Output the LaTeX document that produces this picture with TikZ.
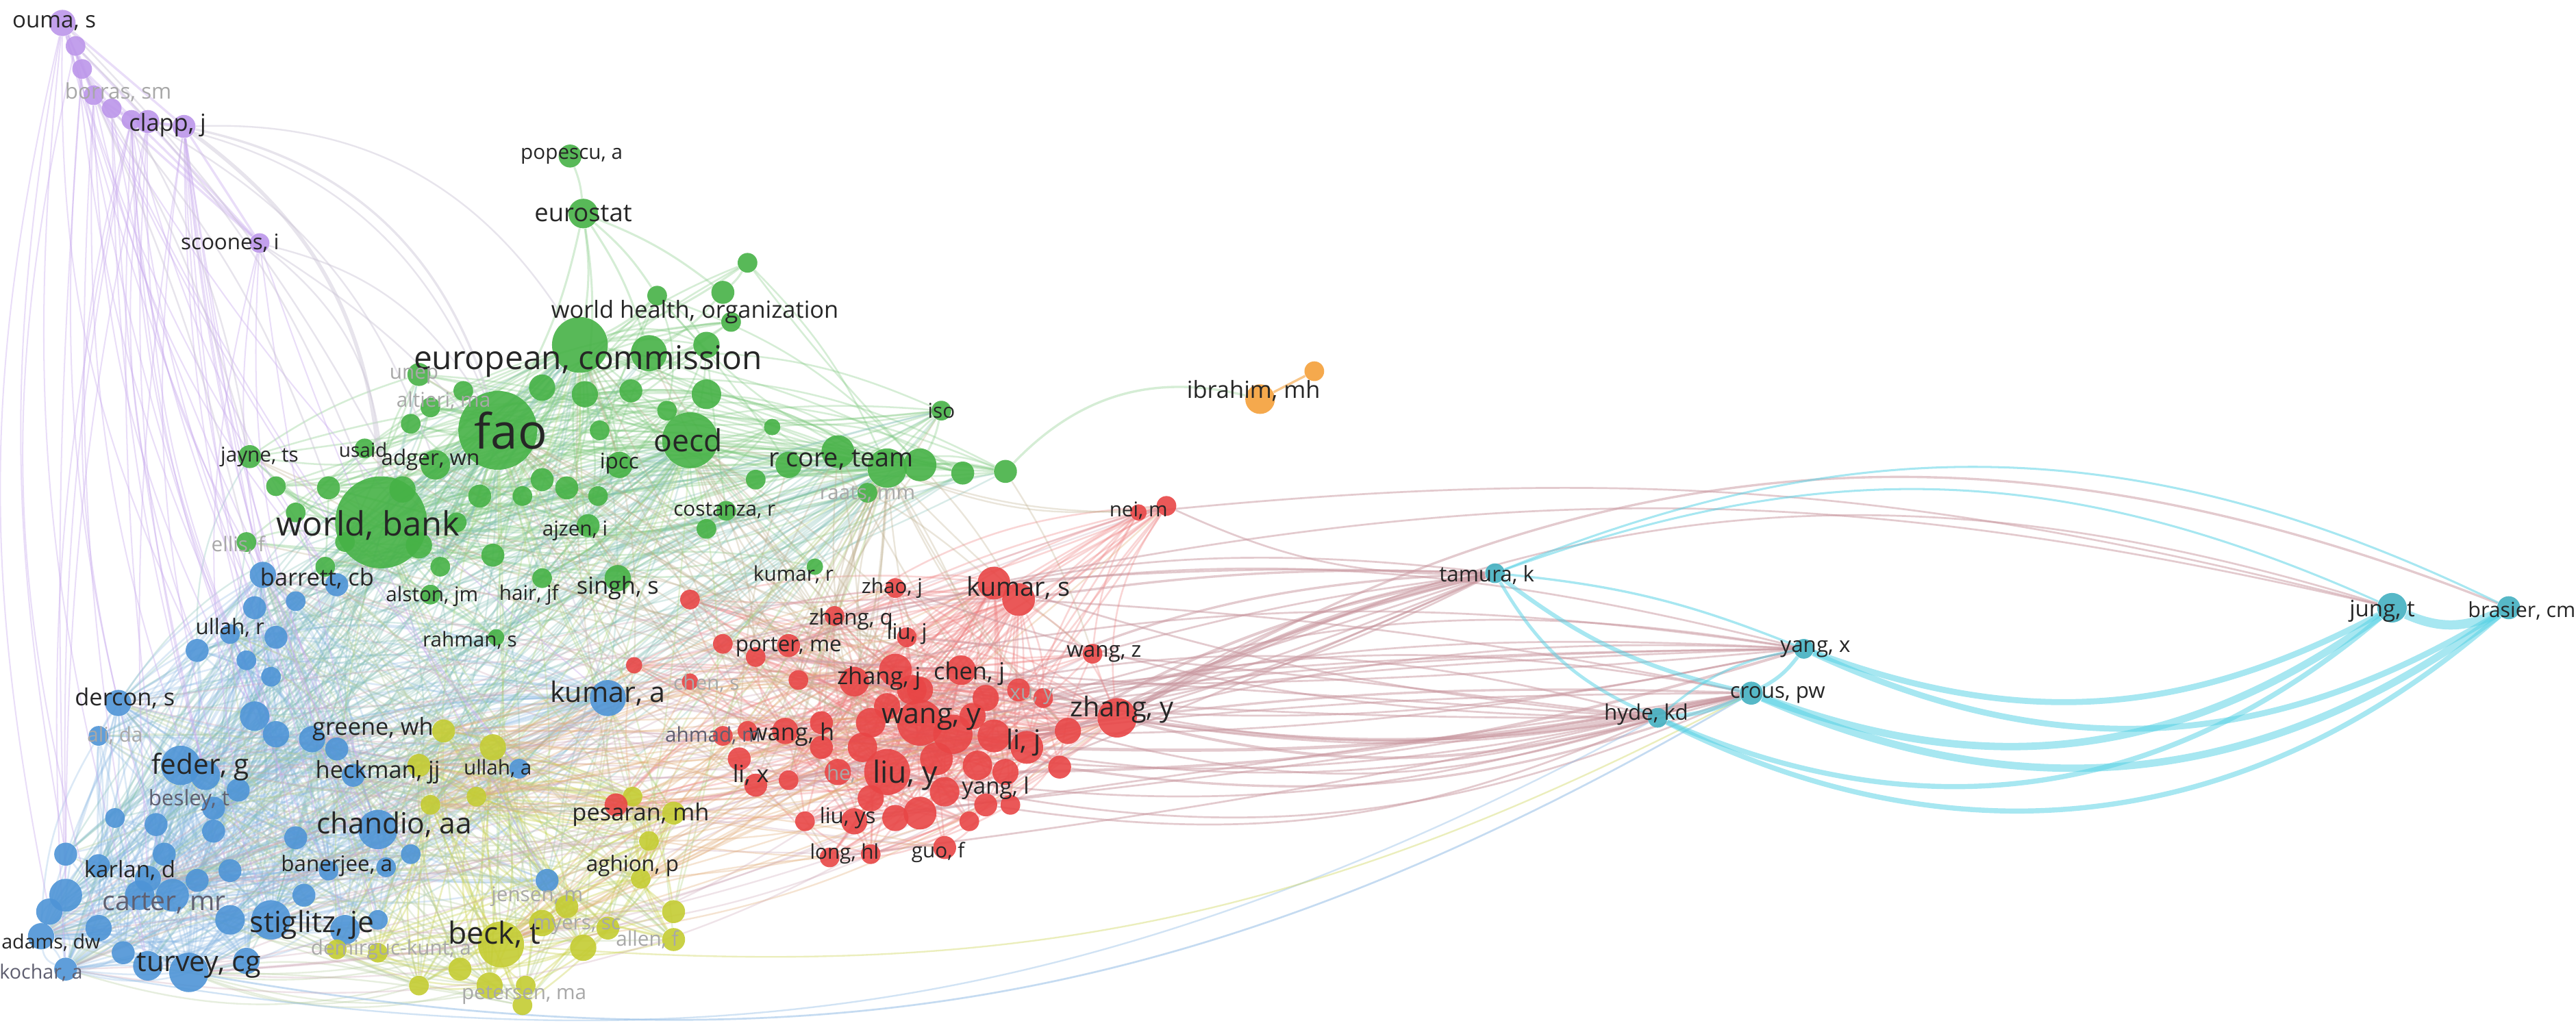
\documentclass[tikz,border=0pt]{standalone}
\usepackage{fontspec}
\setmainfont{Open Sans}
\pgfdeclarelayer{bg}
\pgfdeclarelayer{edges}
\pgfdeclarelayer{labels}
\pgfsetlayers{bg,edges,main,labels}
\definecolor{vgreen}{RGB}{70,178,70}
\definecolor{vblue}{RGB}{78,148,214}
\definecolor{vred}{RGB}{232,70,70}
\definecolor{vyellow}{RGB}{196,204,50}
\definecolor{vpurple}{RGB}{188,150,234}
\definecolor{vcyan}{RGB}{80,208,228}
\definecolor{vorange}{RGB}{245,160,58}
\definecolor{labc}{RGB}{38,38,38}
\definecolor{labm}{RGB}{95,95,112}
\definecolor{labf}{RGB}{168,168,168}
\definecolor{rcgray}{RGB}{200,150,158}
\tikzset{
  vnode/.style={circle, inner sep=0pt, fill=#1, fill opacity=0.9},
  vlab/.style={inner sep=0pt},
  ge/.style={draw=vgreen!70!white, draw opacity=0.32, line width=0.75pt},
  be/.style={draw=vblue!65!white, draw opacity=0.3, line width=0.75pt},
  re/.style={draw=vred!70!white, draw opacity=0.32, line width=0.75pt},
  ye/.style={draw=vyellow!85!white, draw opacity=0.38, line width=0.75pt},
  gbe/.style={draw=vgreen!45!vblue!70!white, draw opacity=0.3, line width=0.7pt},
  gre/.style={draw=vgreen!50!vred!65!white, draw opacity=0.3, line width=0.7pt},
  gye/.style={draw=vgreen!50!vyellow!70!white, draw opacity=0.3, line width=0.7pt},
  bye/.style={draw=vblue!40!vyellow!70!white, draw opacity=0.33, line width=0.7pt},
  bre/.style={draw=vblue!40!vred!60!white, draw opacity=0.3, line width=0.7pt},
  yre/.style={draw=vyellow!50!vred!70!white, draw opacity=0.33, line width=0.7pt},
  rce/.style={draw=rcgray, draw opacity=0.5, line width=0.8pt},
  pe/.style={draw=vpurple!80!white, draw opacity=0.4, line width=0.6pt},
  pge/.style={draw=vpurple!40!gray!50!white, draw opacity=0.45, line width=0.7pt},
  ce/.style={draw=vcyan, draw opacity=0.5},
}
% #1 prefix A, #2-#3 range A, #4 prefix B, #5-#6 range B, #7 count, #8 style, #9 max bend
\newcommand\vosedges[9]{%
  \foreach \k in {1,...,#7}{%
    \pgfmathrandominteger{\ea}{#2}{#3}%
    \pgfmathrandominteger{\eb}{#5}{#6}%
    \pgfmathrandominteger{\ebend}{-#9}{#9}%
    \edef\eA{#1\ea}\edef\eB{#4\eb}%
    \ifx\eA\eB\else\draw[#8] (#1\ea) to[bend left=\ebend] (#4\eb);\fi
  }%
}
\begin{document}
\begin{tikzpicture}[x=0.025cm,y=-0.025cm]
\useasboundingbox (0,0) rectangle (1568,628);
\begin{pgfonlayer}{bg}
\fill[white] (0,0) rectangle (1568,628);
\end{pgfonlayer}

% ---------------- nodes ----------------
% green
\foreach \i/\x/\y/\r in {1/303/262/24, 2/232/318/28, 3/353/210/17, 4/420/268/17, 5/540/285/12, 6/355/130/9, 7/347/95/7, 8/440/178/7, 9/377/283/8, 10/265/283/9, 11/222/273/6, 12/152/278/7, 13/573/250/6, 14/528/300/6, 15/442/311/6, 16/358/320/7, 17/330/352/6, 18/376/352/8, 19/262/362/6, 20/302/388/5, 21/496/345/5, 22/150/330/6, 23/255/228/7, 24/262/248/6, 25/480/283/8, 26/510/275/10, 27/560/283/10, 28/586/288/7, 29/612/287/7, 30/395/215/11, 31/430/210/8, 32/445/196/6, 33/455/160/6, 34/400/180/6, 35/330/236/8, 36/356/240/8, 37/384/238/7, 38/430/240/9, 39/282/238/6, 40/330/292/7, 41/292/302/7, 42/318/302/6, 43/345/297/7, 44/364/302/6, 45/245/298/8, 46/200/297/7, 47/180/312/6, 48/168/296/6, 49/255/332/8, 50/268/345/6, 51/300/338/7, 52/198/345/6, 53/460/292/6, 54/430/322/6, 55/365/262/6, 56/250/258/6, 57/210/330/6, 58/278/318/6, 59/470/260/5, 60/406/250/6}
  \node[vnode=vgreen, minimum size=\r*0.05cm] (g\i) at (\x,\y) {};
% blue
\foreach \i/\x/\y/\r in {1/230/505/12, 2/110/466/12, 3/370/425/11, 4/165/560/12, 5/115/592/12, 6/105/545/10, 7/160/350/8, 8/72/428/8, 9/190/450/8, 10/90/535/8, 11/25/570/8, 12/40/590/7, 13/316/468/6, 14/200/530/6, 15/140/386/6, 16/60/448/6, 17/130/492/7, 18/215/472/7, 19/40/520/7, 20/205/356/7, 21/155/370/7, 22/180/366/6, 23/168/388/7, 24/120/396/7, 25/150/402/6, 26/165/412/6, 27/155/436/9, 28/168/447/8, 29/205/456/7, 30/125/472/9, 31/145/481/7, 32/70/498/6, 33/95/502/7, 34/130/506/7, 35/60/527/7, 36/120/536/7, 37/235/528/6, 38/85/545/9, 39/40/545/10, 40/210/566/9, 41/90/588/9, 42/333/536/7, 43/140/560/9, 44/185/545/7, 45/60/565/8, 46/150/585/8, 47/230/560/6, 48/100/520/7, 49/75/580/7, 50/180/510/7, 51/250/520/6, 52/140/530/7, 53/30/555/8}
  \node[vnode=vblue, minimum size=\r*0.05cm] (b\i) at (\x,\y) {};
% yellow
\foreach \i/\x/\y/\r in {1/305/575/14, 2/410/495/7, 3/390/535/6, 4/300/455/8, 5/270/445/7, 6/255/466/7, 7/290/485/6, 8/262/490/6, 9/385/485/6, 10/395/512/6, 11/345/552/7, 12/330/562/8, 13/355/577/8, 14/410/555/7, 15/410/572/7, 16/320/600/6, 17/318/612/6, 18/230/580/6, 19/205/578/6, 20/280/590/7, 21/298/600/8, 22/370/565/7, 23/255/600/6}
  \node[vnode=vyellow, minimum size=\r*0.05cm] (y\i) at (\x,\y) {};
% red
\foreach \i/\x/\y/\r in {1/540/470/14, 2/560/440/14, 3/680/437/12, 4/625/455/10, 5/605/355/10, 6/520/415/9, 7/585/408/9, 8/478/445/8, 9/580/447/12, 10/605/448/10, 11/620/365/10, 12/545/408/10, 13/650/445/8, 14/693/312/5, 15/710/308/6, 16/545/358/6, 17/508/375/6, 18/552/388/6, 19/480/393/7, 20/420/365/6, 21/386/405/5, 22/440/392/6, 23/460/400/6, 24/486/414/6, 25/420/415/5, 26/665/398/6, 27/635/425/6, 28/440/448/6, 29/510/470/8, 30/450/462/7, 31/460/478/7, 32/480/475/6, 33/600/490/7, 34/615/490/6, 35/520/500/8, 36/505/522/6, 37/575/516/7, 38/645/467/7, 39/560/495/10, 40/545/498/8, 41/375/490/7, 42/500/440/7, 43/530/440/9, 44/600/425/8, 45/620/420/7, 46/560/420/8, 47/490/500/6, 48/590/500/6, 49/530/520/6, 50/455/445/6, 51/570/462/10, 52/595/466/9, 53/555/420/9, 54/525/455/9, 55/575/482/9, 56/530/486/8, 57/612/470/8, 58/500/455/7, 59/592/436/8, 60/540/430/8}
  \node[vnode=vred, minimum size=\r*0.05cm] (r\i) at (\x,\y) {};
% purple
\foreach \i/\x/\y/\r in {1/38/14/8, 2/46/28/6, 3/50/42/6, 4/57/58/6, 5/68/66/6, 6/80/73/6, 7/90/74/7, 8/112/77/7, 9/158/148/6}
  \node[vnode=vpurple, minimum size=\r*0.05cm] (p\i) at (\x,\y) {};
% orange
\node[vnode=vorange, minimum size=0.45cm] (o1) at (767,243) {};
\node[vnode=vorange, minimum size=0.3cm] (o2) at (800,226) {};
% cyan
\foreach \i/\x/\y/\r in {1/910/349/6, 2/1009/437/6, 3/1066/422/7, 4/1098/395/6, 5/1456/370/9, 6/1527/370/7}
  \node[vnode=vcyan!85!black, minimum size=\r*0.05cm] (c\i) at (\x,\y) {};

% ---------------- edges ----------------
\begin{pgfonlayer}{edges}
\pgfmathsetseed{7}
% green
\vosedges{g}{1}{5}{g}{1}{5}{10}{ge}{10}
\vosedges{g}{1}{5}{g}{9}{60}{170}{ge}{20}
\vosedges{g}{9}{60}{g}{9}{60}{90}{ge}{20}
% blue
\vosedges{b}{1}{12}{b}{1}{53}{260}{be}{30}
\vosedges{b}{1}{53}{b}{1}{53}{170}{be}{30}
% yellow
\vosedges{y}{1}{10}{y}{1}{23}{80}{ye}{20}
\vosedges{y}{1}{23}{y}{1}{23}{35}{ye}{20}
% red
\vosedges{r}{1}{13}{r}{1}{60}{240}{re}{20}
\vosedges{r}{1}{60}{r}{1}{60}{140}{re}{20}
% cross
\vosedges{g}{1}{5}{b}{1}{53}{100}{gbe}{20}
\vosedges{g}{9}{30}{b}{1}{53}{60}{gbe}{20}
\vosedges{g}{1}{5}{r}{1}{60}{50}{gre}{15}
\vosedges{g}{9}{30}{r}{1}{60}{30}{gre}{15}
\vosedges{g}{1}{5}{y}{1}{23}{30}{gye}{15}
\vosedges{b}{1}{20}{y}{1}{23}{120}{bye}{20}
\vosedges{b}{1}{12}{r}{1}{60}{55}{bre}{15}
\vosedges{y}{1}{10}{r}{1}{60}{60}{yre}{15}
\vosedges{r}{1}{60}{c}{1}{4}{35}{rce}{14}
% purple to blue
\foreach \k in {1,...,50}{%
  \pgfmathrandominteger{\ea}{1}{9}%
  \pgfmathrandominteger{\eb}{1}{53}%
  \pgfmathrandominteger{\ebend}{-14}{-3}%
  \draw[pe] (p\ea) to[bend left=\ebend] (b\eb);
}
% purple chain
\foreach \a/\b in {1/2,2/3,3/4,4/5,5/6,6/7,7/8,1/3,2/4,3/5,4/6,5/7,6/8,1/8,2/7,4/9,7/9,8/9,3/9}
  \draw[pe, line width=1pt] (p\a) -- (p\b);
% purple to green
\draw[pge, line width=1.6pt] (p8) to[bend left=25] (g2);
\draw[pge, line width=1pt] (p8) to[bend left=30] (g1);
\draw[pge] (p7) to[bend left=28] (g1);
\draw[pge] (p7) to[bend left=20] (g10);
\draw[pge] (p6) to[bend left=10] (g12);
\draw[pge] (p9) to[bend left=25] (g2);
\draw[pge] (p9) to[bend left=22] (g1);
\draw[pge] (p9) to[bend left=20] (b3);
\draw[pge] (p4) to[bend left=5] (g22);
\draw[pge] (p3) to[bend left=8] (g12);
\draw[pge] (p5) to[bend left=10] (g46);
\draw[pge] (p1) to[bend left=8] (g45);
\draw[pge] (p2) to[bend left=12] (g2);
\draw[pge] (p8) to[bend left=30] (g3);
% green specific
\foreach \a/\b in {7/6,6/3,6/30,6/8,6/1,33/3,33/8,8/30,34/3,13/5,13/26,13/27,25/27,26/28,27/29,5/29,6/36,6/34}
  \draw[ge, line width=0.9pt] (g\a) to[bend left=8] (g\b);
\draw[ge, line width=1pt] (g29) to[bend left=30] (o1);
\draw[draw=vorange, draw opacity=0.6, line width=1pt] (o1) -- (o2);
% red to nei
\draw[re] (r14) to[bend right=15] (r4);
\draw[re] (r15) to[bend right=20] (r3);
\draw[re] (r14) -- (r15);
\draw[re] (r15) to[bend right=10] (r11);
% red to cyan
\draw[rce, line width=1.8pt] (r3) to[bend left=8] (c1);
\draw[rce, line width=1.6pt] (r3) to[bend right=10] (c3);
\draw[rce, line width=1.2pt] (r3) to[bend right=14] (c2);
\draw[rce, line width=1.2pt] (r4) to[bend left=10] (c1);
\draw[rce, line width=1.4pt] (r4) to[bend right=6] (c3);
\draw[rce, line width=1pt] (r2) to[bend left=12] (c1);
\draw[rce] (r1) to[bend right=12] (c2);
\draw[rce, line width=1pt] (r10) to[bend left=5] (c3);
\draw[rce, line width=1pt] (r3) to[bend left=26] (c6);
\draw[rce] (r3) to[bend left=22] (c5);
\draw[rce] (r5) to[bend left=12] (c5);
\draw[rce, line width=1pt] (r11) to[bend left=5] (c1);
\draw[rce] (r9) to[bend right=6] (c4);
\draw[rce] (r13) to[bend right=16] (c2);
\draw[rce, line width=1pt] (r38) to[bend right=14] (c3);
\draw[rce] (r33) to[bend right=16] (c2);
\draw[rce] (r1) to[bend right=18] (c3);
\draw[rce, line width=1.2pt] (r13) to[bend left=6] (c1);
\draw[rce, line width=1.2pt] (r57) to[bend right=8] (c4);
\draw[rce] (r26) to[bend left=4] (c1);
\draw[rce] (r14) to[bend left=10] (c5);
% long arcs bottom
\draw[be, draw opacity=0.5, line width=0.8pt] (b5) to[bend right=20] (c3);
\draw[be, draw opacity=0.4, line width=0.7pt] (b12) to[bend right=19] (c2);
\draw[ye, line width=0.7pt] (y1) to[bend right=16] (c3);
\draw[bre] (b4) to[bend right=20] (r3);
\draw[yre] (y1) to[bend right=15] (r3);
\draw[bre] (b5) to[bend right=20] (r1);
\draw[bre] (b12) to[bend right=22] (r4);
% cyan cluster
\draw[ce, line width=3.2pt] (c3) to[bend right=28] (c5);
\draw[ce, line width=3.2pt] (c3) to[bend right=30] (c6);
\draw[ce, line width=2.6pt] (c4) to[bend right=24] (c5);
\draw[ce, line width=2.6pt] (c4) to[bend right=28] (c6);
\draw[ce, line width=2.2pt] (c2) to[bend right=32] (c5);
\draw[ce, line width=2.2pt] (c2) to[bend right=34] (c6);
\draw[ce, line width=4pt] (c5) to[bend right=25] (c6);
\draw[ce, line width=1.8pt] (c1) to[bend right=12] (c3);
\draw[ce, line width=1.4pt] (c1) to[bend right=18] (c2);
\draw[ce, line width=1pt] (c1) to[bend left=8] (c4);
\draw[ce, line width=1.8pt] (c2) to[bend right=10] (c3);
\draw[ce, line width=1.6pt] (c3) to[bend right=12] (c4);
\draw[ce, line width=1pt] (c2) to[bend left=15] (c4);
\draw[ce, line width=0.9pt] (c1) to[bend left=22] (c5);
\draw[ce, line width=0.9pt] (c1) to[bend left=24] (c6);
\end{pgfonlayer}

% ---------------- labels ----------------
\begin{pgfonlayer}{labels}
\foreach \i/\lx/\ly/\txt/\fs/\lc in {1/311/262/fao/21/labc, 2/224/320/{world, bank}/14.5/labc, 3/358/220/{european, commission}/14.2/labc, 4/419/268/oecd/13.2/labc, 5/512/280/{r core, team}/11.2/labc, 6/355/130/eurostat/10.8/labc, 7/348/95/{popescu, a}/8.8/labc, 8/423/190/{world health, organization}/10.2/labc, 9/377/282/ipcc/9.3/labc, 10/262/280/{adger, wn}/9.3/labc, 11/221/274/usaid/8.3/labc, 12/158/278/{jayne, ts}/8.8/labc, 13/573/250/iso/8.8/labc, 14/528/301/{raats, mm}/8.8/labf, 15/441/311/{costanza, r}/8.8/labc, 16/350/323/{ajzen, i}/8.8/labc, 17/322/362/{hair, jf}/8.8/labc, 18/376/358/{singh, s}/10.2/labc, 19/263/363/{alston, jm}/8.8/labc, 20/286/390/{rahman, s}/8.8/labc, 21/483/350/{kumar, r}/8.8/labc, 22/145/332/{ellis, f}/8.8/labf, 23/252/229/unep/8.8/labf, 24/270/244/{altieri, ma}/8.8/labf}
  \node[vlab, text=\lc, font=\fontsize{\fs pt}{\fs pt}\selectfont] (lg\i) at (\lx,\ly) {\txt};
\foreach \i/\lx/\ly/\txt/\fs/\lc in {1/240/502/{chandio, aa}/12.6/labc, 2/122/467/{feder, g}/12/labc, 3/370/422/{kumar, a}/12.2/labc, 4/190/563/{stiglitz, je}/12.6/labc, 5/121/588/{turvey, cg}/12.2/labc, 6/100/550/{carter, mr}/11.6/labm, 7/193/352/{barrett, cb}/10.2/labc, 8/76/425/{dercon, s}/10.2/labc, 9/227/444/{greene, wh}/10.2/labc, 10/79/530/{karlan, d}/9.8/labc, 11/31/574/{adams, dw}/8.5/labc, 12/25/592/{kochar, a}/8.5/labm, 13/303/468/{ullah, a}/8.8/labc, 14/205/527/{banerjee, a}/9.3/labc, 15/140/382/{ullah, r}/9.3/labc, 16/70/448/{ali, da}/8.8/labf, 17/115/487/{besley, t}/9.3/labm, 18/230/470/{heckman, jj}/10.2/labc}
  \node[vlab, text=\lc, font=\fontsize{\fs pt}{\fs pt}\selectfont] (lb\i) at (\lx,\ly) {\txt};
\foreach \i/\lx/\ly/\txt/\fs/\lc in {1/301/569/{beck, t}/13.2/labc, 2/390/496/{pesaran, mh}/10.2/labc, 3/385/527/{aghion, p}/9.3/labc, 22/351/564/{myers, sc}/8.8/labf, 15/394/572/{allen, f}/8.8/labf, 17/319/606/{petersen, ma}/8.8/labf, 18/238/578/{demirguc-kunt, a}/8.8/labf, 11/327/546/{jensen, m}/8.8/labf}
  \node[vlab, text=\lc, font=\fontsize{\fs pt}{\fs pt}\selectfont] (ly\i) at (\lx,\ly) {\txt};
\foreach \i/\lx/\ly/\txt/\fs/\lc in {1/551/472/{liu, y}/13.2/labc, 2/567/438/{wang, y}/12.2/labc, 3/683/432/{zhang, y}/11.8/labc, 4/623/452/{li, j}/11.8/labc, 5/620/358/{kumar, s}/11.2/labc, 6/535/413/{zhang, j}/10.2/labc, 7/590/410/{chen, j}/10.2/labc, 8/482/447/{wang, h}/10.2/labc, 14/693/311/{nei, m}/8.8/labc, 16/543/358/{zhao, j}/8.8/labc, 17/518/377/{zhang, q}/9.3/labc, 18/552/386/{liu, j}/9.3/labc, 19/480/394/{porter, me}/9.3/labc, 25/430/416/{chen, s}/8.8/labf, 26/672/398/{wang, z}/9.3/labc, 27/628/424/{xu, y}/8.8/labf, 28/434/448/{ahmad, m}/8.8/labm, 29/512/471/{he,}/8.8/labf, 30/457/472/{li, x}/10.2/labc, 33/606/480/{yang, l}/9.8/labc, 35/516/498/{liu, ys}/9.3/labc, 36/514/520/{long, hl}/8.8/labc, 37/571/519/{guo, f}/8.8/labc}
  \node[vlab, text=\lc, font=\fontsize{\fs pt}{\fs pt}\selectfont] (lr\i) at (\lx,\ly) {\txt};
\foreach \i/\lx/\ly/\txt/\fs/\lc in {1/33/14/{ouma, s}/9.8/labc, 4/72/56/{borras, sm}/9.3/labf, 8/102/76/{clapp, j}/10.2/labc, 9/140/148/{scoones, i}/9.3/labc}
  \node[vlab, text=\lc, font=\fontsize{\fs pt}{\fs pt}\selectfont] (lp\i) at (\lx,\ly) {\txt};
\node[vlab, text=labc, font=\fontsize{10.2pt}{10.2pt}\selectfont] (lo1) at (763,238) {ibrahim, mh};
\foreach \i/\lx/\ly/\txt/\fs/\lc in {1/905/350/{tamura, k}/9.3/labc, 2/1002/435/{hyde, kd}/9.3/labc, 3/1082/423/{crous, pw}/9.3/labc, 4/1105/395/{yang, x}/9.3/labc, 5/1450/372/{jung, t}/9.8/labc, 6/1535/372/{brasier, cm}/9/labc}
  \node[vlab, text=\lc, font=\fontsize{\fs pt}{\fs pt}\selectfont] (lc\i) at (\lx,\ly) {\txt};
\end{pgfonlayer}
\end{tikzpicture}
\end{document}
